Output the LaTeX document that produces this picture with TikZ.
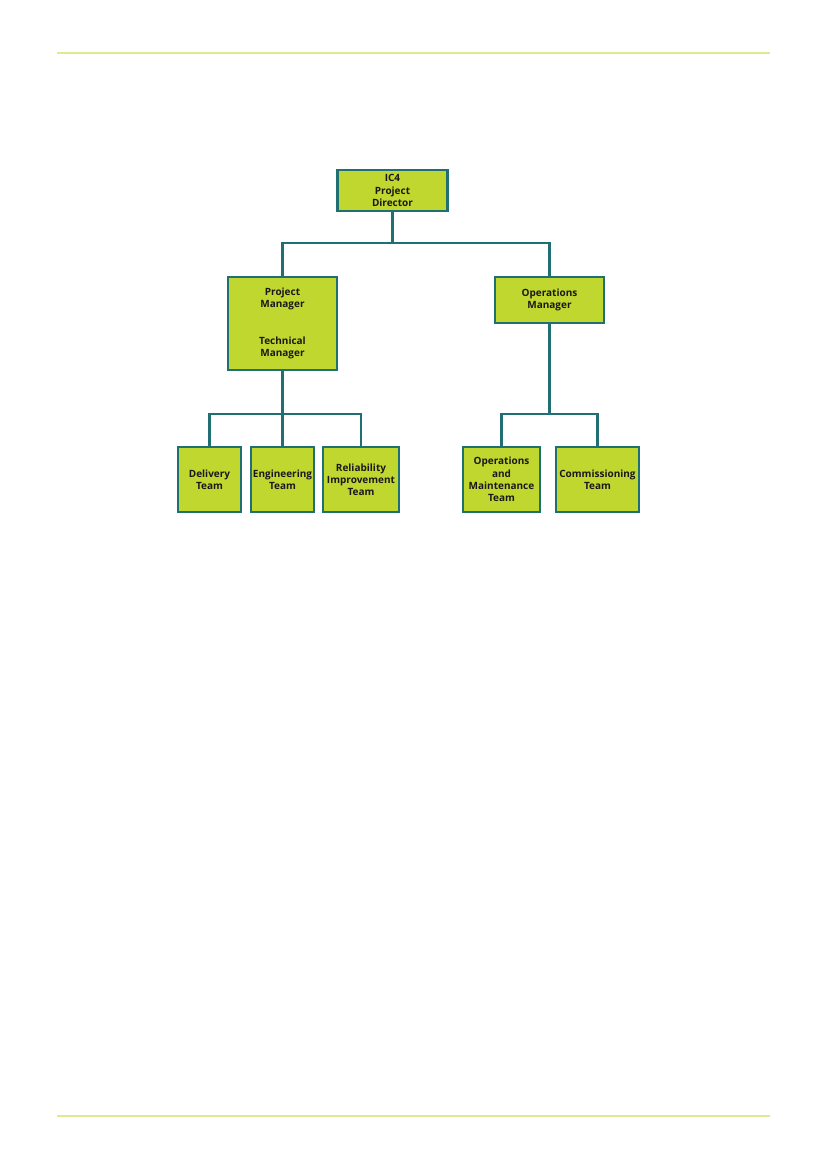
\documentclass[tikz,border=0pt]{standalone}
\usepackage{fontspec}
\setmainfont{Open Sans}
\definecolor{boxfill}{HTML}{C0D72F}
\definecolor{boxline}{HTML}{1F6F73}
\definecolor{rule}{HTML}{DDEA91}
\begin{document}
\begin{tikzpicture}[x=0.72pt,y=-0.72pt,
  box/.style={draw=boxline,fill=boxfill,line width=1.5pt,align=center,inner sep=1pt,
    font=\fontsize{7.2}{8.8}\selectfont\bfseries,text=black!90},
  conn/.style={draw=boxline,line width=1.5pt}]
\useasboundingbox (0,0) rectangle (826,1169);
\draw[rule,line width=1.4pt] (57,53) -- (770,53);
\draw[rule,line width=1.4pt] (57,1116) -- (770,1116);
\node[box,minimum width=79.2pt,minimum height=29.5pt] (dir) at (392.5,190.5) {IC4\\Project\\Director};
\node[box,minimum width=78.9pt,minimum height=67.2pt] (pm) at (282.5,323.3) {Project\\Manager\\[17.5pt]Technical\\Manager};
\node[box,minimum width=78.7pt,minimum height=33.1pt] (om) at (549.5,299.7) {Operations\\Manager};
\node[box,minimum width=45.6pt,minimum height=46.4pt] (del) at (209.5,479.5) {Delivery\\Team};
\node[box,minimum width=45.9pt,minimum height=46.4pt] (eng) at (282.5,479.5) {Engineering\\Team};
\node[box,minimum width=54.3pt,minimum height=46.4pt] (rel) at (361,479.5) {Reliability\\Improvement\\Team};
\node[box,minimum width=55.2pt,minimum height=46.4pt] (oam) at (501.5,479.5) {Operations\\and\\Maintenance\\Team};
\node[box,minimum width=60.2pt,minimum height=46.4pt] (com) at (597.5,479.5) {Commissioning\\Team};
\coordinate (bus1) at (392.5,242.7);
\coordinate (bus2) at (282.5,414.3);
\coordinate (bus3) at (549.5,414.3);
\draw[conn] (dir.south) -- (bus1);
\draw[conn] (pm.north) |- (bus1) -| (om.north);
\draw[conn] (pm.south) -- (bus2);
\draw[conn] (del.north) |- (bus2) -| (rel.north);
\draw[conn] (eng.north) -- (bus2);
\draw[conn] (om.south) -- (bus3);
\draw[conn] (oam.north) |- (bus3) -| (com.north);
\end{tikzpicture}
\end{document}
